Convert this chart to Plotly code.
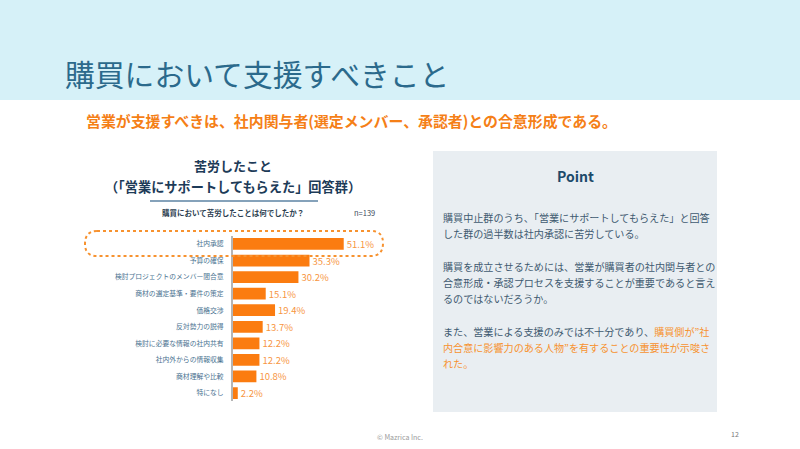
import plotly.graph_objects as go

categories = ["社内承認", "予算の確保", "検討プロジェクトのメンバー間合意", "商材の選定基準・要件の策定",
              "価格交渉", "反対勢力の説得", "検討に必要な情報の社内共有", "社内外からの情報収集",
              "商材理解や比較", "特になし"]
values = [51.1, 35.3, 30.2, 15.1, 19.4, 13.7, 12.2, 12.2, 10.8, 2.2]
value_labels = [f"{v}%" for v in values]

title_text = "購買において支援すべきこと"
subtitle_text = "営業が支援すべきは、社内関与者(選定メンバー、承認者)との合意形成である。"
chart_title_1 = "苦労したこと"
chart_title_2 = "（「営業にサポートしてもらえた」回答群）"
question_text = "購買において苦労したことは何でしたか？"
n_text = "n=139"
point_title = "Point"
ORANGE_TXT = "#f7922f"
point_lines = [
    "購買中止群のうち、「営業にサポートしてもらえた」と回答",
    "した群の過半数は社内承認に苦労している。",
    "購買を成立させるためには、営業が購買者の社内関与者との",
    "合意形成・承認プロセスを支援することが重要であると言え",
    "るのではないだろうか。",
    "また、営業による支援のみでは不十分であり、<span style='color:%s'>購買側が”社</span>" % ORANGE_TXT,
    "<span style='color:%s'>内合意に影響力のある人物”を有することの重要性が示唆さ</span>" % ORANGE_TXT,
    "<span style='color:%s'>れた。</span>" % ORANGE_TXT,
]
point_line_y = [217, 233, 266, 282, 298, 331, 347, 363]
footer_text = "© Mazrica Inc."
page_no = "12"

W, H = 800, 449
FONT = "Noto Sans CJK JP"


def px(x):
    return x / W


def py(y):
    return 1 - y / H


XMAX = 70
PX_PER = 2.167
x0_axis = 233

fig = go.Figure()
fig.add_trace(go.Bar(
    y=categories, x=values, orientation="h",
    marker=dict(color="#fb7c10", line=dict(width=0)),
    text=value_labels, textposition="outside", constraintext="none",
    textfont=dict(family=FONT, size=9.5, color="#f7963f"),
    cliponaxis=False, hoverinfo="skip",
))

shapes = [
    dict(type="rect", xref="paper", yref="paper", x0=0, x1=1, y0=py(100), y1=1,
         fillcolor="#d6f1f8", line=dict(width=0), layer="below"),
    dict(type="rect", xref="paper", yref="paper", x0=px(433), x1=px(717), y0=py(412), y1=py(151),
         fillcolor="#e9eef2", line=dict(width=0), layer="below"),
    dict(type="line", xref="paper", yref="paper", x0=px(150), x1=px(318), y0=py(201), y1=py(201),
         line=dict(color="#5d83a3", width=1.5)),
]

# dashed pill around first row
L, R, T, B = 85, 383, 231, 256
r = 12
path = (f"M {px(L + r)},{py(T)} L {px(R - r)},{py(T)} "
        f"Q {px(R)},{py(T)} {px(R)},{py(T + r)} "
        f"Q {px(R)},{py(B)} {px(R - r)},{py(B)} "
        f"L {px(L + r)},{py(B)} "
        f"Q {px(L)},{py(B)} {px(L)},{py(B - r)} "
        f"Q {px(L)},{py(T)} {px(L + r)},{py(T)} Z")
shapes.append(dict(type="path", xref="paper", yref="paper", path=path,
                   line=dict(color="#f7922f", width=2, dash="dot")))

annotations = [
    dict(text=title_text, x=px(63), y=py(73), xanchor="left", yanchor="middle",
         font=dict(family=FONT, size=29.8, color="#2b6a8c")),
    dict(text=f"<b>{subtitle_text}</b>", x=px(84), y=py(120), xanchor="left", yanchor="middle",
         font=dict(family=FONT, size=14.9, color="#f57f17")),
    dict(text=f"<b>{chart_title_1}</b>", x=px(233), y=py(165), xanchor="center", yanchor="middle",
         font=dict(family=FONT, size=13, color="#1d3b58")),
    dict(text=f"<b>{chart_title_2}</b>", x=px(233), y=py(186), xanchor="center", yanchor="middle",
         font=dict(family=FONT, size=13.2, color="#1d3b58")),
    dict(text=f"<b>{question_text}</b>", x=px(233), y=py(212), xanchor="center", yanchor="middle",
         font=dict(family=FONT, size=7.5, color="#2c3e50")),
    dict(text=n_text, x=px(352), y=py(212), xanchor="left", yanchor="middle",
         font=dict(family=FONT, size=7.5, color="#3a4a5a")),
    dict(text=f"<b>{point_title}</b>", x=px(575), y=py(176), xanchor="center", yanchor="middle",
         font=dict(family=FONT, size=14, color="#1d4a6a")),
    dict(text=footer_text, x=px(400), y=py(437), xanchor="center", yanchor="middle",
         font=dict(family=FONT, size=7, color="#9a9a9a")),
    dict(text=page_no, x=px(735), y=py(434), xanchor="center", yanchor="middle",
         font=dict(family=FONT, size=7, color="#777777")),
]
for line, yy in zip(point_lines, point_line_y):
    annotations.append(dict(text=line, x=px(441), y=py(yy), xanchor="left", yanchor="middle",
                            font=dict(family=FONT, size=10.1, color="#3f5a70")))
for a in annotations:
    a.update(xref="paper", yref="paper", showarrow=False)

fig.update_layout(
    width=W, height=H, margin=dict(l=0, r=0, t=0, b=0),
    paper_bgcolor="white", plot_bgcolor="rgba(0,0,0,0)",
    showlegend=False, bargap=0.29,
    shapes=shapes, annotations=annotations,
    xaxis=dict(domain=[px(x0_axis), px(x0_axis + XMAX * PX_PER)], range=[0, XMAX],
               showgrid=False, zeroline=False, showticklabels=False, showline=False, fixedrange=True),
    yaxis=dict(domain=[py(401.3), py(235.7)], categoryorder="array", categoryarray=categories,
               autorange="reversed", showline=True, linecolor="#b5b5b5", linewidth=2,
               ticks="", showgrid=False, ticklabelstandoff=6,
               tickfont=dict(family=FONT, size=6.8, color="#4a7290"), fixedrange=True),
)

fig.write_html("out.html", config={"displayModeBar": False},
               post_script="document.body.style.margin='0';document.body.style.overflow='hidden';")
